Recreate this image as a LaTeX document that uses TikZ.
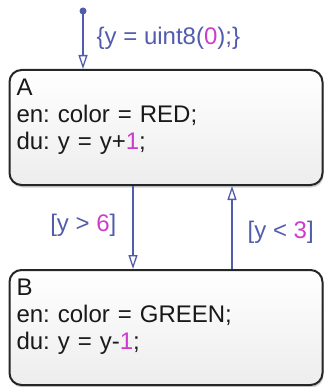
\documentclass[tikz,border=0pt]{standalone}
\usepackage{fontspec}
\setmainfont{Liberation Sans}
\usepackage{tikz}
\usetikzlibrary{positioning,arrows.meta,shadows}
\definecolor{trcol}{RGB}{82,92,172}
\definecolor{numcol}{RGB}{205,60,205}
\definecolor{txtcol}{RGB}{25,25,25}
\newcommand{\num}[1]{\textcolor{numcol}{#1}}
\frenchspacing

\begin{document}
\begin{tikzpicture}[x=1pt, y=-1pt,
  st/.style={rectangle, draw=black!85, line width=2pt, rounded corners=12pt,
             top color=white, bottom color=black!7,
             drop shadow={shadow xshift=1pt, shadow yshift=-2.5pt, fill=black!30, opacity=.6},
             minimum width=313pt, minimum height=115pt, text width=299pt,
             inner xsep=7pt, align=left, text=txtcol,
             font=\fontsize{24}{27}\selectfont},
  tr/.style={-{Triangle[open, length=14pt, width=9pt, line width=1.3pt]}, trcol, line width=1.4pt},
  lbl/.style={text=trcol, inner sep=0pt, font=\fontsize{24}{27}\selectfont},
]
\useasboundingbox (0,0) rectangle (325,387);

\node[st] (A) at (166,127.5) {A\\en: color = RED;\\du: y = y+\num{1};\\\mbox{}};
\node[st] (B) at (166,327.5) {B\\en: color = GREEN;\\du: y = y-\num{1};\\\mbox{}};

% default transition
\coordinate (init) at (83,11);
\fill[trcol] (init) circle (3.5pt);
\draw[tr] (init) -- (init |- A.north)
  node[lbl, pos=0.47, right=13pt] {\{y = uint8(\num{0});\}};

\draw[tr] ([xshift=-33pt]A.south) -- ([xshift=-33pt]B.north)
  node[lbl, pos=0.47, left=16pt] {[y > \num{6}]};
\draw[tr] ([xshift=66pt]B.north) -- ([xshift=66pt]A.south)
  node[lbl, pos=0.44, right=15pt] {[y < \num{3}]};
\end{tikzpicture}
\end{document}
